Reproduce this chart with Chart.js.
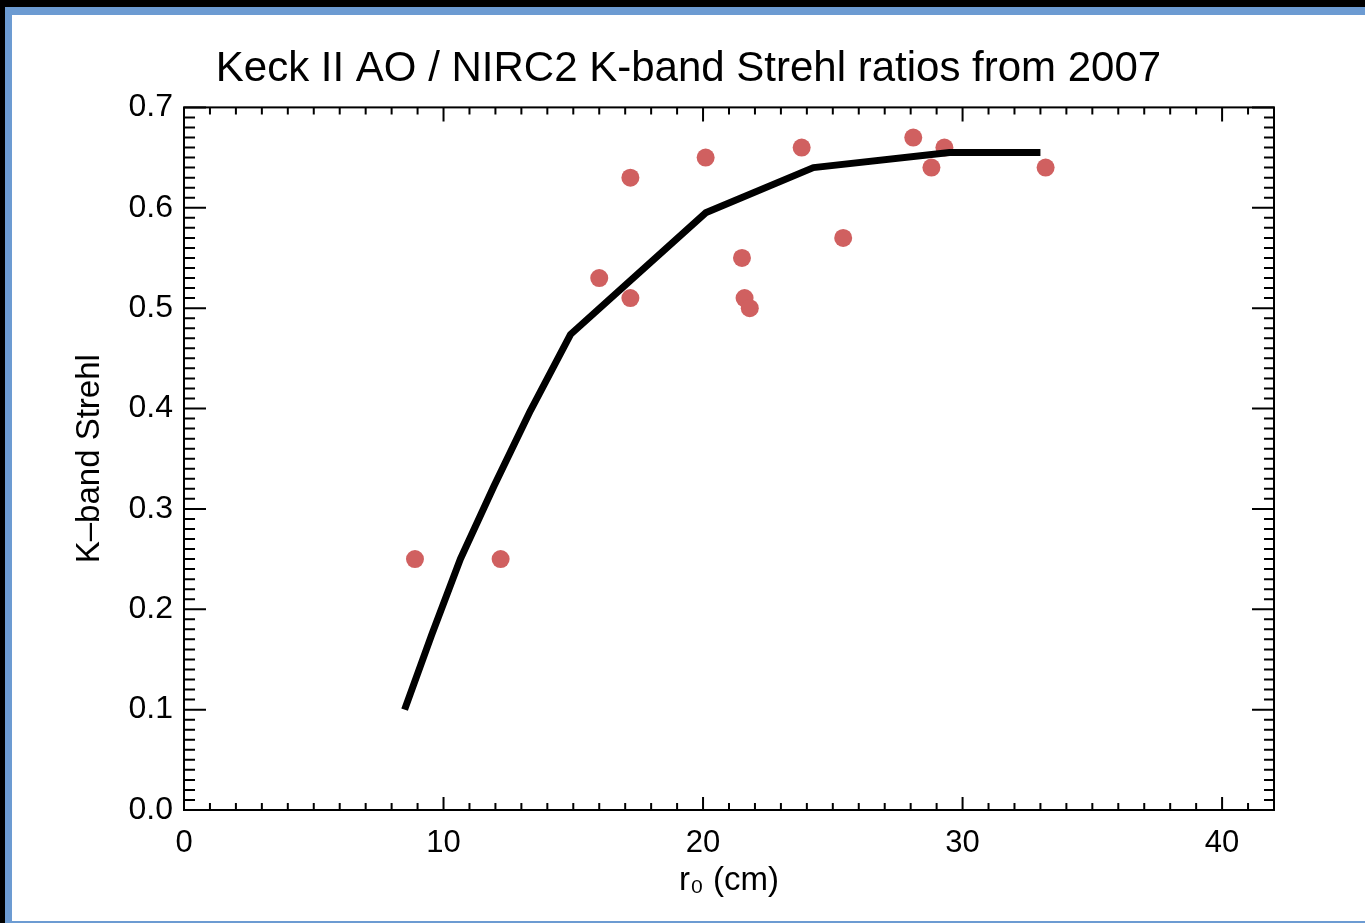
<!DOCTYPE html>
<html lang="en">
<head>
  <meta charset="UTF-8">
  <title>Keck II AO Strehl</title>
  <script src="https://cdn.jsdelivr.net/npm/chart.js"></script>
  <style>
    html, body { margin: 0; padding: 0; background: #000; overflow: hidden; }
    /* blue slide frame round the plot */
    .frame {
      position: absolute;
      left: 5px; top: 7px; right: 0; bottom: 0;
      background-color: #6c9bd2;
    }
    .panel {
      position: absolute;
      left: 12px; top: 15px;
      width: 1353px; height: 906px;
      background-color: #ffffff;
    }
  </style>
</head>
<body>
<div class="frame"></div>
<div class="panel">
  <canvas id="strehlChart"></canvas>
</div>

<script>
  // measured points: r0 (cm) and K-band Strehl
  var r0Points = [8.9, 12.2, 16.0, 17.2, 17.2, 20.1, 21.5, 21.6, 21.8, 23.8, 25.4, 28.1, 28.8, 29.3, 33.2];
  var strehlPoints = [0.25, 0.25, 0.53, 0.51, 0.63, 0.65, 0.55, 0.51, 0.50, 0.66, 0.57, 0.67, 0.64, 0.66, 0.64];

  // model curve
  var r0Model = [8.5, 9.55, 10.65, 11.95, 13.35, 14.9, 20.1, 24.25, 29.5, 33.0];
  var strehlModel = [0.10, 0.175, 0.25, 0.323, 0.398, 0.474, 0.595, 0.640, 0.655, 0.655];

  var xTicks = [0, 10, 20, 30, 40];
  var yTicks = [0.0, 0.1, 0.2, 0.3, 0.4, 0.5, 0.6, 0.7];

  var fontFamily = '"Liberation Sans", Arial, Helvetica, sans-serif';

  function toXY(xs, ys) {
    return xs.map(function (x, i) { return { x: x, y: ys[i] }; });
  }

  // IDL-style box: axis lines on all four sides with inward ticks
  var boxTicks = {
    id: 'boxTicks',
    afterDraw: function (chart) {
      var ctx = chart.ctx;
      var a = chart.chartArea;
      var xs = chart.scales.x, ys = chart.scales.y;
      ctx.save();
      ctx.strokeStyle = '#000';
      ctx.lineWidth = 2;
      ctx.strokeRect(a.left, a.top, a.right - a.left, a.bottom - a.top);
      ctx.beginPath();
      for (var i = 0; i <= 42; i++) {
        var px = xs.getPixelForValue(i);
        var major = i % 10 === 0;
        ctx.moveTo(px, a.bottom);
        ctx.lineTo(px, a.bottom - (major ? 13 : 7));
        ctx.moveTo(px, a.top);
        ctx.lineTo(px, a.top + (major ? 14 : 7));
      }
      for (var j = 0; j <= 70; j++) {
        var py = ys.getPixelForValue(j / 100);
        var majorY = j % 10 === 0;
        ctx.moveTo(a.left, py);
        ctx.lineTo(a.left + (majorY ? 22 : 11), py);
        ctx.moveTo(a.right, py);
        ctx.lineTo(a.right - (majorY ? 22 : 10), py);
      }
      ctx.stroke();
      ctx.restore();
    }
  };

  var ctx = document.getElementById('strehlChart').getContext('2d');
  var chart = new Chart(ctx, {
    type: 'scatter',
    data: {
      datasets: [{
        type: 'line',
        label: 'Model',
        data: toXY(r0Model, strehlModel),
        borderColor: '#000000',
        borderWidth: 7,
        borderJoinStyle: 'round',
        pointRadius: 0,
        fill: false,
        tension: 0
      }, {
        label: 'Measured',
        data: toXY(r0Points, strehlPoints),
        backgroundColor: 'rgb(208, 96, 96)',
        borderWidth: 0,
        pointRadius: 9
      }]
    },
    plugins: [boxTicks],
    options: {
      responsive: true,
      maintainAspectRatio: false,
      animation: false,
      layout: { padding: 0 },
      plugins: {
        legend: { display: false },
        tooltip: { enabled: false },
        title: {
          display: true,
          text: 'Keck II AO / NIRC2 K-band Strehl ratios from 2007',
          color: '#000',
          font: { family: fontFamily, size: 42, weight: 'normal' },
          padding: { top: 29, bottom: 13 }
        }
      },
      scales: {
        x: {
          type: 'linear',
          min: 0,
          max: 42,
          afterFit: function (scale) { scale.height = 111; },
          afterBuildTicks: function (scale) {
            scale.ticks = xTicks.map(function (v) { return { value: v }; });
          },
          grid: { display: false, drawTicks: false },
          border: { display: false },
          ticks: {
            color: '#000',
            padding: 15,
            maxRotation: 0,
            font: { family: fontFamily, size: 31 },
            callback: function (v) { return String(v); }
          },
          title: {
            display: true,
            text: 'r₀ (cm)',
            color: '#000',
            font: { family: fontFamily, size: 33 },
            padding: { top: 0, bottom: 20 }
          }
        },
        y: {
          type: 'linear',
          min: 0,
          max: 0.7,
          afterFit: function (scale) { scale.width = 172; },
          afterBuildTicks: function (scale) {
            scale.ticks = yTicks.map(function (v) { return { value: v }; });
          },
          grid: { display: false, drawTicks: false },
          border: { display: false },
          ticks: {
            color: '#000',
            padding: 11,
            font: { family: fontFamily, size: 32 },
            callback: function (v) { return Number(v).toFixed(1); }
          },
          title: {
            display: true,
            text: 'K–band Strehl',
            color: '#000',
            font: { family: fontFamily, size: 33 },
            padding: { top: 58, bottom: 0 }
          }
        },
        // empty right-hand axis, only reserves the margin so the title stays centred
        y2: {
          type: 'linear',
          position: 'right',
          min: 0,
          max: 0.7,
          afterFit: function (scale) { scale.width = 91; },
          grid: { display: false, drawTicks: false },
          border: { display: false },
          ticks: { display: false }
        }
      }
    }
  });
</script>
</body>
</html>
